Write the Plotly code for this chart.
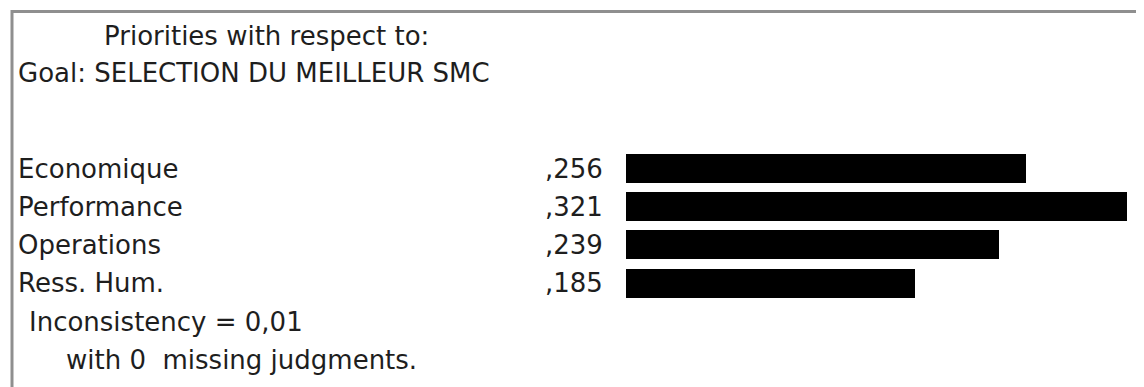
import plotly.graph_objects as go

# ---- data ----
categories = ["Economique", "Performance", "Operations", "Ress. Hum."]
priorities = [0.256, 0.321, 0.239, 0.185]
header_line1 = "Priorities with respect to:"
header_line2 = "Goal: SELECTION DU MEILLEUR SMC"
inconsistency = "Inconsistency = 0,01"
missing_note = "with 0  missing judgments."

# page has an 8px body margin: figure is placed at (8, 8)
OFF = 8
W, H = 1144 - OFF, 387 - OFF
FONT = "DejaVu Sans"
TXT = "#1e1e1e"
FS = 26

def fmt(v):
    return f"{v:.3f}"[1:].replace(".", ",")

def fx(px):
    return (px - OFF) / W

def fy(py):
    return 1 - (py - OFF) / H

idx = list(range(len(categories)))

fig = go.Figure()
fig.add_trace(go.Bar(
    x=priorities, y=idx, orientation="h",
    marker=dict(color="#000000", line=dict(width=0)),
    width=0.76, hoverinfo="skip", showlegend=False,
))

# x: bar origin at page pixel 626, 1561 px per unit
px0, ppu = 626 - OFF, 1561
xr = [-px0 / ppu, (W - px0) / ppu]
# y: row 0 centre at page pixel 168.5, 38.2 px per row
cy0, rowh = 168.5 - OFF, 38.2
yr = [(H - cy0) / rowh, -cy0 / rowh]

ann = []
for i, (c, v) in enumerate(zip(categories, priorities)):
    ann.append(dict(x=fx(16), xref="paper", y=i, yref="y", text=c,
                    xanchor="left", yanchor="middle", showarrow=False,
                    font=dict(family=FONT, size=FS, color=TXT)))
    ann.append(dict(x=0, xref="x", y=i, yref="y", text=fmt(v),
                    xanchor="right", yanchor="middle", xshift=-21, showarrow=False,
                    font=dict(family=FONT, size=FS, color=TXT)))

def ptext(text, xpx, ypx):
    return dict(x=fx(xpx), xref="paper", y=fy(ypx), yref="paper", text=text,
                xanchor="left", yanchor="middle", showarrow=False,
                font=dict(family=FONT, size=FS, color=TXT))

ann.append(ptext(header_line1, 102, 36))
ann.append(ptext(header_line2, 16, 73))
ann.append(ptext(inconsistency, 27, 322))
ann.append(ptext(missing_note, 64, 360))

GRAY = "#8f8f8f"
shapes = [
    dict(type="line", xref="paper", yref="paper", x0=fx(12), x1=1,
         y0=fy(11.5), y1=fy(11.5), line=dict(color=GRAY, width=3)),
    dict(type="line", xref="paper", yref="paper", x0=fx(12), x1=fx(12),
         y0=0, y1=fy(10), line=dict(color=GRAY, width=3)),
]

fig.update_layout(
    width=W, height=H,
    margin=dict(l=0, r=0, t=0, b=0),
    paper_bgcolor="white", plot_bgcolor="white",
    xaxis=dict(range=xr, visible=False, domain=[0, 1]),
    yaxis=dict(range=yr, visible=False, domain=[0, 1]),
    annotations=ann, shapes=shapes,
    bargap=0,
)

fig.write_html("out.html", config={"displayModeBar": False})
